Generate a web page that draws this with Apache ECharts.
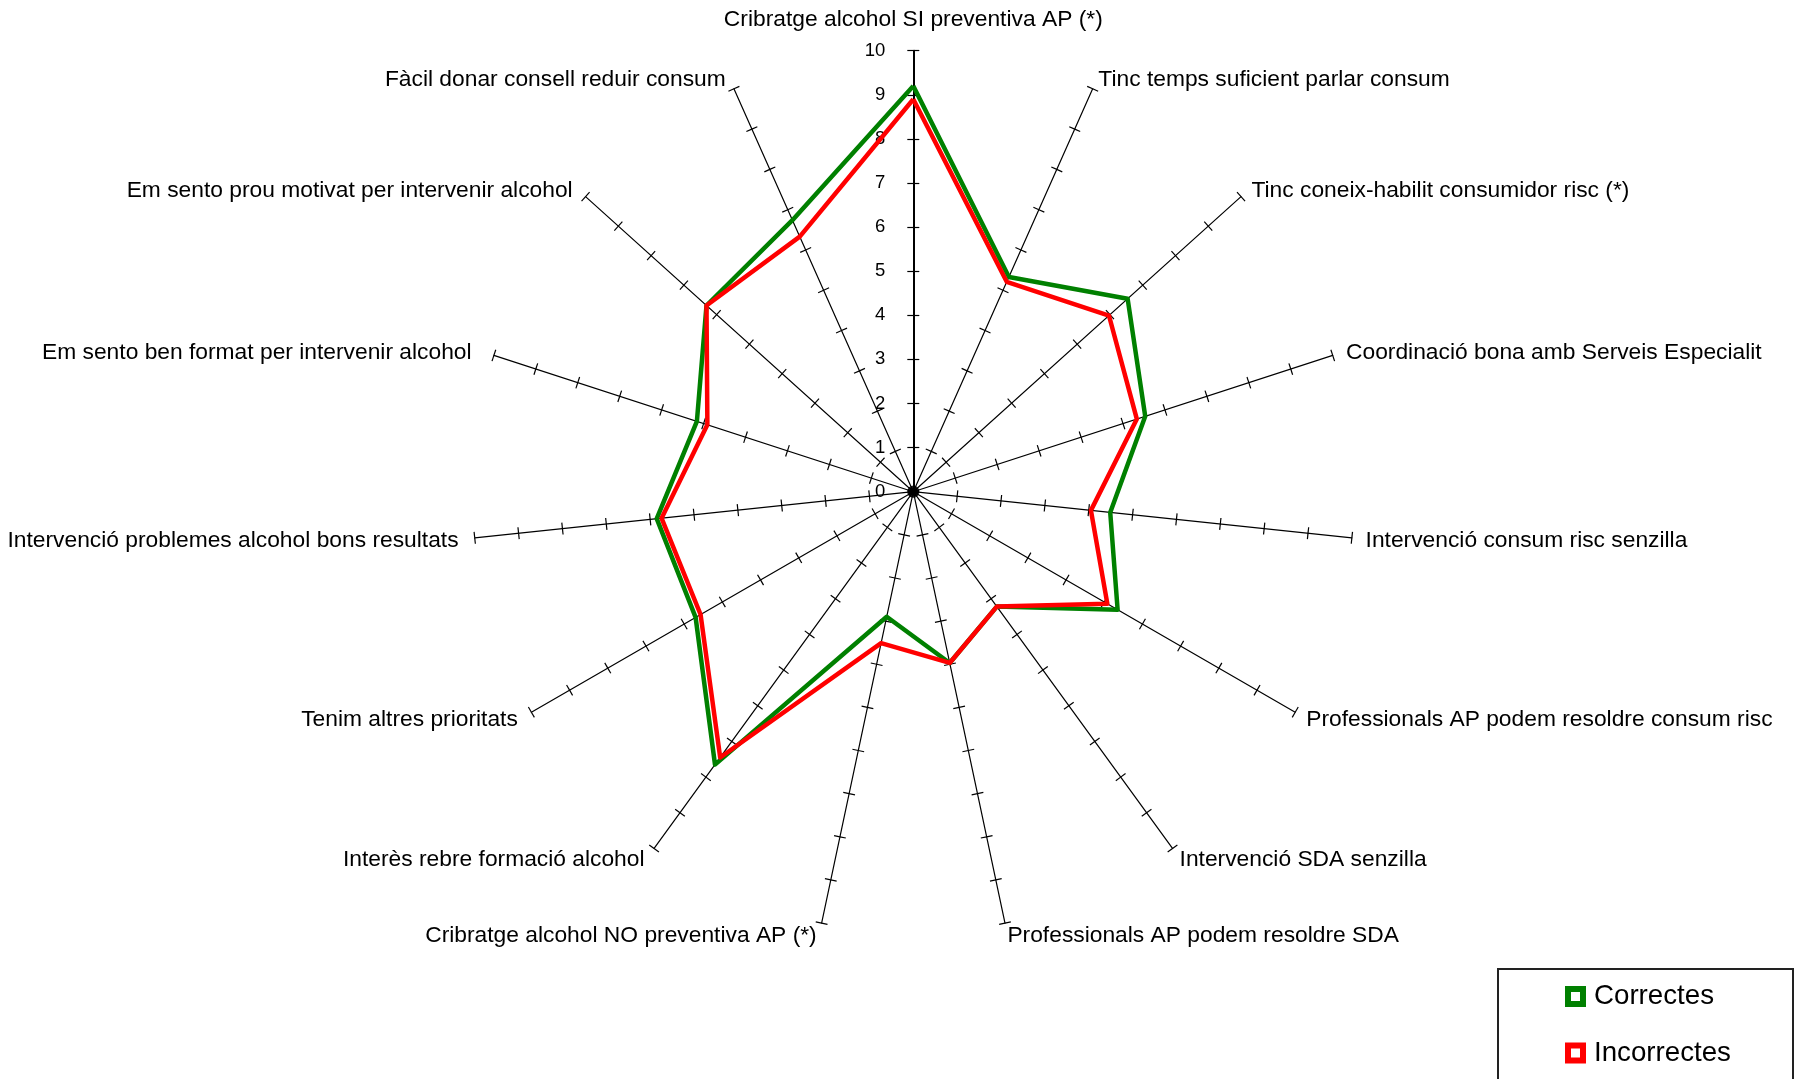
<!DOCTYPE html>
<html>
<head>
<meta charset="utf-8">
<script src="https://cdn.jsdelivr.net/npm/echarts@6/dist/echarts.min.js"></script>
<style>
html,body{margin:0;padding:0;background:#fff;}
#chart{width:1802px;height:1079px;}
</style>
</head>
<body>
<div id="chart"></div>
<script>
// Categories in clockwise order starting at the top
const categories = [
  "Cribratge alcohol SI preventiva AP (*)",
  "Tinc temps suficient parlar consum",
  "Tinc coneix-habilit consumidor risc (*)",
  "Coordinació bona amb Serveis Especialit",
  "Intervenció consum risc senzilla",
  "Professionals AP podem resoldre consum risc",
  "Intervenció SDA senzilla",
  "Professionals AP podem resoldre SDA",
  "Cribratge alcohol NO preventiva AP (*)",
  "Interès rebre formació alcohol",
  "Tenim altres prioritats",
  "Intervenció problemes alcohol bons resultats",
  "Em sento ben format per intervenir alcohol",
  "Em sento prou motivat per intervenir alcohol",
  "Fàcil donar consell reduir consum"
];
const correctes   = [9.2, 5.33, 6.54, 5.53, 4.49, 5.35, 3.22, 3.97, 2.9, 7.65, 5.7, 5.85, 5.16, 6.31, 6.74];
const incorrectes = [8.9, 5.21, 5.97, 5.33, 4.05, 5.08, 3.22, 3.97, 3.51, 7.45, 5.57, 5.74, 4.91, 6.31, 6.33];
const seriesNames = ["Correctes", "Incorrectes"];
const seriesColors = ["#008000", "#ff0000"];
const axisMin = 0, axisMax = 10, axisSplit = 10;

// ECharts radar places indicators counter-clockwise; reorder so they read clockwise
const order = [0].concat(categories.map((_, i) => i).slice(1).reverse());
const reorder = arr => order.map(i => arr[i]);

const FONT = "Liberation Sans, Arial, sans-serif";
const N = categories.length;

// name placement style (per clockwise index)
function nameStyleFor(i) {
  if (i === 0) return { gap: 19, textStyle: {} };
  const theta = 2 * Math.PI * i / N;           // clockwise from top
  const c = Math.cos(theta), s = Math.sin(theta);
  const gap = 14 - 2.5 * Math.max(0, -c);
  let padRight = 0;
  if (s < 0) padRight = 2.5;
  if (i === 12) padRight = 9;
  return {
    gap: gap,
    textStyle: {
      align: s > 0 ? "left" : "right",
      verticalAlign: "top",
      lineHeight: 2.4 + 5.5 * Math.max(0, c),
      padding: [0, padRight, 0, 0]
    }
  };
}

const indicators = order.map((ci, k) => {
  const st = nameStyleFor(ci);
  const ind = {
    name: categories[ci], min: axisMin, max: axisMax,
    nameGap: st.gap,
    nameTextStyle: st.textStyle
  };
  if (k === 0) {
    ind.axisLabel = { show: true, color: "#000", fontSize: 18.5, fontFamily: FONT, margin: 28 };
    ind.axisLine = { lineStyle: { color: "#000", width: 2 } };
  }
  return ind;
});
const plainIndicators = order.map(ci => ({ name: categories[ci], min: axisMin, max: axisMax }));

const center = [913.3, 491.7];
const radius = 441;

const chart = echarts.init(document.getElementById("chart"), null, { renderer: "canvas" });
chart.setOption({
  backgroundColor: "#ffffff",
  animation: false,
  textStyle: { fontFamily: FONT },
  legend: {
    orient: "vertical",
    left: 1565,
    top: 982.5,
    padding: 0,
    itemWidth: 21,
    itemHeight: 21,
    itemGap: 28.5,
    icon: "path://M0,0H21V21H0Z M6,6V15H15V6Z",
    textStyle: { color: "#000", fontSize: 27.7, fontFamily: FONT, lineHeight: 21, padding: [6, 0, 0, 3] },
    data: seriesNames
  },
  graphic: [{
    type: "rect",
    shape: { x: 1498, y: 969, width: 295, height: 140 },
    style: { fill: "none", stroke: "#222", lineWidth: 2 },
    silent: true
  }],
  radar: [{
    center: center,
    radius: radius,
    startAngle: 90,
    splitNumber: axisSplit,
    shape: "polygon",
    nameGap: 15,
    indicator: indicators,
    axisName: { color: "#000", fontSize: 22.8, fontFamily: FONT },
    axisLine: { show: true, lineStyle: { color: "#000", width: 1.2 } },
    axisTick: { show: true, length: 6, lineStyle: { color: "#000", width: 1.2 } },
    axisLabel: { show: false },
    splitLine: { show: false },
    splitArea: { show: false }
  }, {
    center: center,
    radius: radius,
    startAngle: 90,
    splitNumber: axisSplit,
    shape: "polygon",
    indicator: plainIndicators,
    axisName: { show: false },
    axisLine: { show: false },
    axisTick: { show: true, length: -6, lineStyle: { color: "#000", width: 1.2 } },
    axisLabel: { show: false },
    splitLine: { show: false },
    splitArea: { show: false }
  }],
  series: [{
    type: "radar",
    radarIndex: 0,
    symbol: "none",
    data: [
      { name: seriesNames[0], value: reorder(correctes),
        lineStyle: { color: seriesColors[0], width: 4.5 }, itemStyle: { color: seriesColors[0] } },
      { name: seriesNames[1], value: reorder(incorrectes),
        lineStyle: { color: seriesColors[1], width: 4.5 }, itemStyle: { color: seriesColors[1] } }
    ]
  }]
});
</script>
</body>
</html>
